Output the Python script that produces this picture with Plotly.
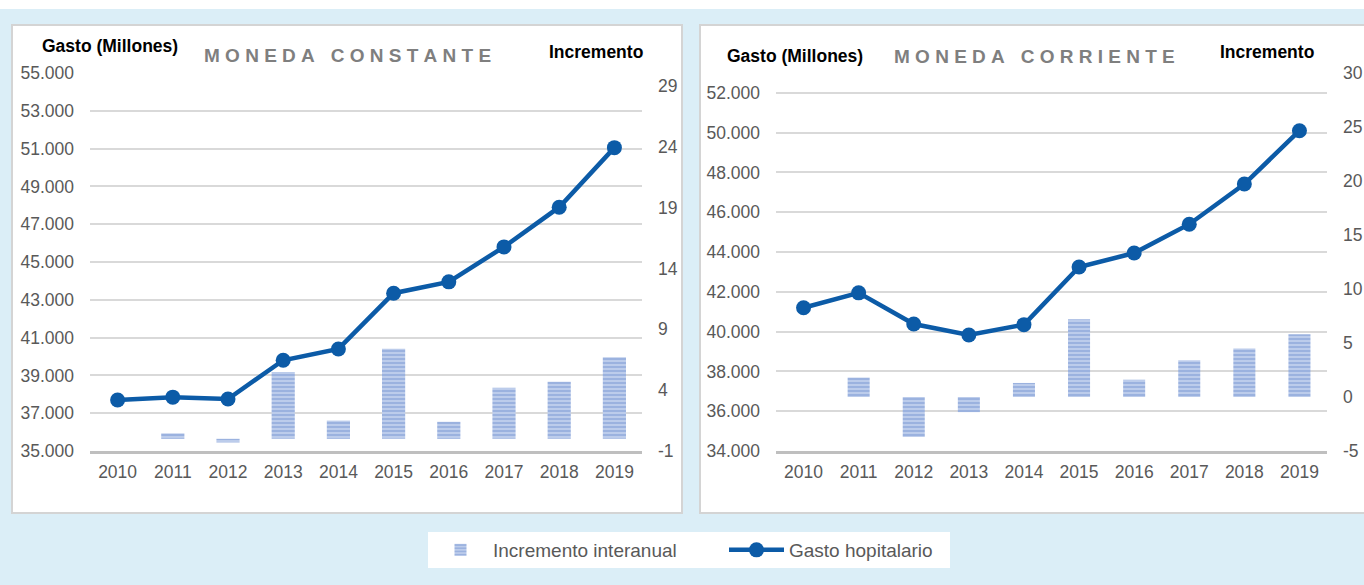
import plotly.graph_objects as go

# ---------------- data ----------------
years = ["2010", "2011", "2012", "2013", "2014", "2015", "2016", "2017", "2018", "2019"]

gasto_constante = [37700, 37850, 37750, 39800, 40400, 43350, 43950, 45800, 47900, 51050]
incr_constante = [None, 0.45, -0.3, 5.5, 1.5, 7.4, 1.4, 4.2, 4.7, 6.7]

gasto_corriente = [41200, 41950, 40380, 39830, 40350, 43250, 43950, 45400, 47420, 50100]
incr_corriente = [None, 1.8, -3.7, -1.4, 1.3, 7.2, 1.6, 3.4, 4.5, 5.8]

incr_ticks_constante = [-1, 4, 9, 14, 19, 24, 29]
incr_labels_constante = ["-1", "4", "9", "14", "19", "24", "29"]
incr_ticks_corriente = [-5, 0, 5, 10, 15, 20, 25, 30]
incr_labels_corriente = ["-5", "0", "5", "10", "15", "20", "25", "30"]

left_title = "MONEDA CONSTANTE"
right_title = "MONEDA CORRIENTE"
y_title = "Gasto (Millones)"
y2_title = "Incremento"
bar_name = "Incremento interanual"
line_name = "Gasto hopitalario"

# ---------------- style ----------------
W, H = 1364, 585
FONT = "Liberation Sans, Arial, sans-serif"
TICK_COLOR = "#595959"
LINE_COLOR = "#0c5ba7"
BAR_BG = "#c4d2ee"
BAR_FG = "#7191cf"
GRID = "#d9d9d9"
BG = "#dbeef7"


def px_x(p):
    return p / W


def px_y(p):
    return 1 - p / H


def spaced(s):
    return "\u00a0".join(s)


fig = go.Figure()

bar_kw = dict(
    marker=dict(color=BAR_BG, line=dict(width=0),
                pattern=dict(shape="-", fgcolor=BAR_FG, bgcolor=BAR_BG, size=4, solidity=0.6)),
)
line_kw = dict(mode="lines+markers", line=dict(color=LINE_COLOR, width=4.5),
               marker=dict(size=15, color=LINE_COLOR))

# left chart
fig.add_trace(go.Bar(x=years, y=incr_constante, name=bar_name, xaxis="x", yaxis="y",
                     width=0.42, showlegend=True, legendgroup="b", **bar_kw))
fig.add_trace(go.Scatter(x=years, y=gasto_constante, name=line_name, xaxis="x", yaxis="y2",
                         showlegend=True, legendgroup="l", **line_kw))
# right chart
fig.add_trace(go.Bar(x=years, y=incr_corriente, name=bar_name, xaxis="x2", yaxis="y3",
                     width=0.40, showlegend=False, legendgroup="b", **bar_kw))
fig.add_trace(go.Scatter(x=years, y=gasto_corriente, name=line_name, xaxis="x2", yaxis="y4",
                         showlegend=False, legendgroup="l", **line_kw))

tickfont = dict(family=FONT, size=17.5, color=TICK_COLOR)

ydom = [px_y(451), px_y(73)]
xdom1 = [px_x(90), px_x(642)]
xdom2 = [px_x(776), px_x(1327)]

xaxis_common = dict(type="category", categoryorder="array", categoryarray=years,
                    range=[-0.5, 9.5], showgrid=False, showline=True, linecolor="#bfbfbf",
                    linewidth=3, ticks="", tickfont=tickfont, ticklabelstandoff=3,
                    fixedrange=True, automargin=False)

yaxis_common = dict(showgrid=False, zeroline=False, tickfont=tickfont, ticks="",
                    ticklabelstandoff=15, automargin=False, fixedrange=True)

fig.update_layout(
    width=W, height=H,
    margin=dict(l=0, r=0, t=0, b=0, pad=0, autoexpand=False),
    paper_bgcolor=BG,
    plot_bgcolor="rgba(0,0,0,0)",
    separators=",.",
    barmode="overlay",
    font=dict(family=FONT, color=TICK_COLOR),
    xaxis=dict(domain=xdom1, anchor="y", **xaxis_common),
    yaxis=dict(domain=ydom, anchor="x", side="right", range=[-1, 30.06],
               tickvals=incr_ticks_constante, ticktext=incr_labels_constante, **yaxis_common),
    yaxis2=dict(overlaying="y", anchor="x", side="left", range=[35000, 55000],
                tick0=35000, dtick=2000, tickformat=",.0f",
                **{**yaxis_common, "showgrid": True}, gridcolor=GRID, gridwidth=2),
    xaxis2=dict(domain=xdom2, anchor="y3", **xaxis_common),
    yaxis3=dict(domain=ydom, anchor="x2", side="right", range=[-5, 30],
                tickvals=incr_ticks_corriente, ticktext=incr_labels_corriente, **yaxis_common),
    yaxis4=dict(overlaying="y3", anchor="x2", side="left", range=[34000, 53000],
                tick0=34000, dtick=2000, tickformat=",.0f",
                **{**yaxis_common, "showgrid": True}, gridcolor=GRID, gridwidth=2),
    legend=dict(orientation="h", x=px_x(428), y=px_y(550), xanchor="left", yanchor="middle",
                bgcolor="rgba(0,0,0,0)", font=dict(family=FONT, size=19, color=TICK_COLOR),
                itemwidth=55, entrywidth=226, traceorder="normal", tracegroupgap=0),
)

shapes = [
    dict(type="rect", xref="paper", yref="paper", x0=0, x1=1, y0=px_y(9), y1=1,
         fillcolor="white", line=dict(width=0), layer="below"),
    dict(type="rect", xref="paper", yref="paper", x0=px_x(12), x1=px_x(682), y0=px_y(513),
         y1=px_y(25), fillcolor="white", line=dict(color="#d4d4d4", width=2), layer="below"),
    dict(type="rect", xref="paper", yref="paper", x0=px_x(700), x1=px_x(1375), y0=px_y(513),
         y1=px_y(25), fillcolor="white", line=dict(color="#d4d4d4", width=2), layer="below"),
    dict(type="rect", xref="paper", yref="paper", x0=px_x(428), x1=px_x(950), y0=px_y(568),
         y1=px_y(532), fillcolor="white", line=dict(width=0), layer="below"),
]
fig.update_layout(shapes=shapes)

ann = []


def add_text(text, x, y, size, color, bold=True):
    ann.append(dict(text=f"<b>{text}</b>" if bold else text, x=px_x(x), y=px_y(y),
                    xref="paper", yref="paper", xanchor="center", yanchor="middle",
                    showarrow=False, font=dict(family=FONT, size=size, color=color)))


add_text(y_title, 110, 46, 17.5, "#000000")
add_text(spaced(left_title), 347, 56, 19, "#7f7f7f")
add_text(y2_title, 596, 52, 17.5, "#000000")
add_text(y_title, 795, 56, 17.5, "#000000")
add_text(spaced(right_title), 1034, 57, 19, "#7f7f7f")
add_text(y2_title, 1267, 52, 17.5, "#000000")
fig.update_layout(annotations=ann)

fig.write_html("out.html", config={"displayModeBar": False},
               post_script="document.body.style.margin='0';document.body.style.overflow='hidden';")
